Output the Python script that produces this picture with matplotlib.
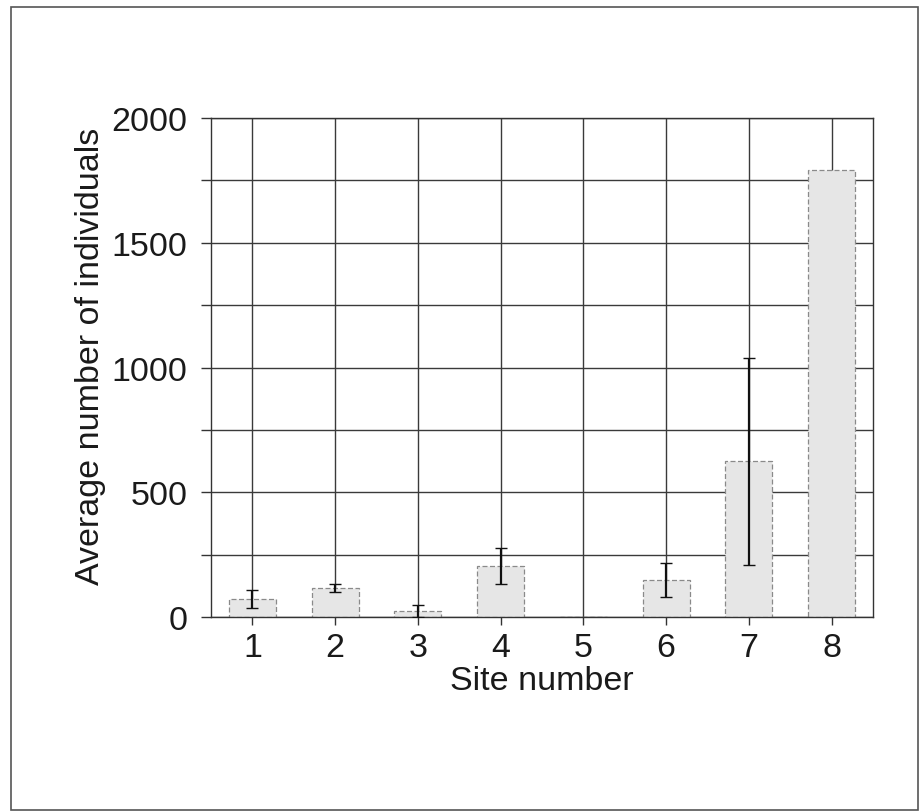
import matplotlib
matplotlib.use("Agg")
import matplotlib.pyplot as plt
from matplotlib.patches import Rectangle
from matplotlib.ticker import MultipleLocator

plt.rcParams['font.family'] = ['Liberation Sans', 'DejaVu Sans']

sites = [1, 2, 3, 4, 5, 6, 7, 8]
site_labels = ["1", "2", "3", "4", "5", "6", "7", "8"]
mean_individuals = [73, 118, 25, 204, 0, 148, 624, 1790]
error_individuals = [36, 16, 24, 73, 0, 68, 416, 0]
y_ticks = [0, 500, 1000, 1500, 2000]

fig = plt.figure(figsize=(9.23, 8.12), dpi=100)
ax = fig.add_axes([0.2286, 0.2389, 0.7172, 0.6145])

# gridlines every 250 vertically, one per site horizontally, under the bars
ax.set_axisbelow(True)
ax.yaxis.set_major_locator(MultipleLocator(500))
ax.yaxis.set_minor_locator(MultipleLocator(250))
ax.grid(True, which='both', axis='y', color='#3a3a3a', linewidth=1.0)
ax.grid(True, which='major', axis='x', color='#3a3a3a', linewidth=1.0)

ax.bar(sites, mean_individuals, width=0.57, color='#e6e6e6',
       edgecolor='#8a8a8a', linewidth=0.9, linestyle=(0, (4, 2)), zorder=2)

# error bars only where there is spread
ex = [s for s, e in zip(sites, error_individuals) if e > 0]
ey = [m for m, e in zip(mean_individuals, error_individuals) if e > 0]
ee = [e for e in error_individuals if e > 0]
ax.errorbar(ex, ey, yerr=ee, fmt='none', ecolor='#111111', elinewidth=1.6,
            capsize=4, capthick=1.0, zorder=3)

ax.set_xlim(0.5, 8.5)
ax.set_ylim(0, 2000)
ax.set_xticks(sites)
ax.set_xticklabels(site_labels)
ax.set_yticks(y_ticks)

for sp in ax.spines.values():
    sp.set_color('#333333')
    sp.set_linewidth(1.0)

ax.tick_params(axis='both', which='both', direction='out', color='#333333',
               width=1.0, labelsize=24.5, labelcolor='#1a1a1a')
ax.tick_params(axis='y', which='both', length=7, pad=10)
ax.tick_params(axis='x', which='both', length=6, pad=5)

ax.set_xlabel("Site number", fontsize=24.5, color='#1a1a1a', labelpad=1)
ax.set_ylabel("Average number of individuals", fontsize=24.5, color='#1a1a1a')
ax.yaxis.set_label_coords(-0.159, 0.525)

# outer frame around the figure
fig.patches.append(Rectangle((11 / 923, 1 / 812), 907 / 923, 803 / 812,
                             transform=fig.transFigure, fill=False,
                             edgecolor='#555555', linewidth=1.2))

fig.savefig("out.png", dpi=100, facecolor='white')
